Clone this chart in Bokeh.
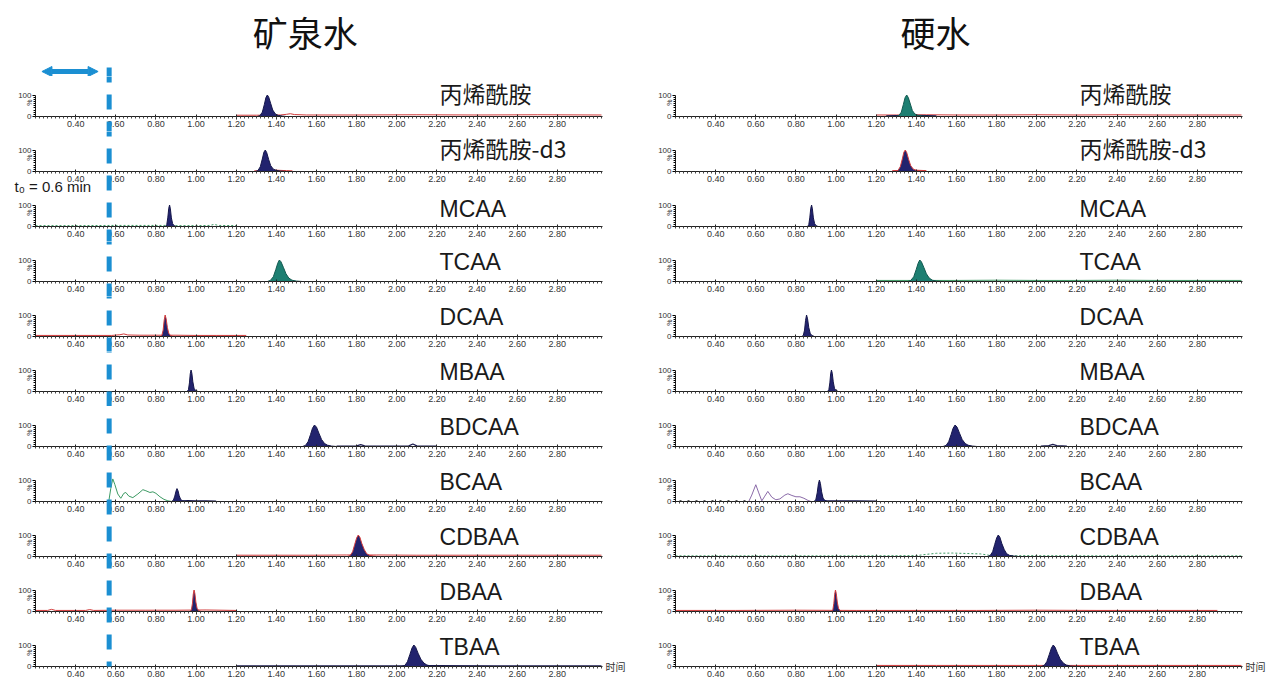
import math
from bokeh.plotting import figure
from bokeh.models import (Range1d, FixedTicker, PrintfTickFormatter, Label, Arrow,
                          NormalHead, ColumnDataSource)
from bokeh.layouts import row, column
from bokeh.embed import file_html
from bokeh.resources import INLINE

# ---------------- data ----------------
SAMPLES = ["矿泉水", "硬水"]
COMPOUNDS = ["丙烯酰胺", "丙烯酰胺-d3", "MCAA", "TCAA", "DCAA", "MBAA",
             "BDCAA", "BCAA", "CDBAA", "DBAA", "TBAA"]
X_TICKS = [0.4, 0.6, 0.8, 1.0, 1.2, 1.4, 1.6, 1.8, 2.0, 2.2, 2.4, 2.6, 2.8]
X_MINOR_TICKS = [round(0.2 + 0.02 * k, 2) for k in range(142)]
Y_TICKS = [0, 100]
Y_MINOR_TICKS = [10, 20, 30, 40, 50, 60, 70, 80, 90]
TIME_RANGE = (0.2, 3.025)
DEAD_TIME_MARK = 0.567
DEAD_TIME_SPAN = (0.232, 0.512)
DEAD_TIME_TEXT = "t₀ = 0.6 min"
AXIS_NAME = "时间"
Y_NAME = "%"

# peaks, mineral water (矿泉水)
MINERAL_PEAK_T = [
    [1.305, 1.318, 1.33, 1.34, 1.348, 1.355, 1.362, 1.372, 1.382, 1.395, 1.41, 1.43, 1.45],
    [1.295, 1.308, 1.32, 1.33, 1.338, 1.345, 1.352, 1.362, 1.372, 1.385, 1.40, 1.42, 1.45],
    [0.848, 0.854, 0.859, 0.864, 0.868, 0.872, 0.877, 0.883, 0.89, 0.90],
    [1.355, 1.37, 1.385, 1.397, 1.407, 1.415, 1.423, 1.435, 1.448, 1.462, 1.478, 1.50, 1.53],
    [0.822, 0.83, 0.836, 0.841, 0.846, 0.851, 0.857, 0.864, 0.872, 0.885],
    [0.955, 0.962, 0.967, 0.971, 0.975, 0.979, 0.984, 0.99, 0.998, 1.01],
    [1.53, 1.545, 1.558, 1.57, 1.58, 1.59, 1.60, 1.612, 1.625, 1.64, 1.655, 1.675, 1.70],
    [0.878, 0.887, 0.894, 0.90, 0.905, 0.91, 0.916, 0.923, 0.932, 0.945],
    [1.755, 1.768, 1.78, 1.79, 1.80, 1.808, 1.816, 1.826, 1.838, 1.85, 1.865, 1.885, 1.91],
    [0.97, 0.977, 0.982, 0.986, 0.99, 0.994, 0.999, 1.005, 1.013, 1.025],
    [2.025, 2.04, 2.053, 2.065, 2.076, 2.085, 2.094, 2.106, 2.12, 2.135, 2.15, 2.17, 2.20],
]
MINERAL_PEAK_I = [
    [0, 4, 20, 55, 88, 100, 90, 60, 30, 12, 5, 2, 0],
    [0, 4, 22, 58, 90, 100, 88, 55, 27, 11, 5, 2, 0],
    [0, 8, 40, 85, 100, 82, 40, 14, 4, 0],
    [0, 5, 22, 55, 85, 100, 92, 66, 36, 16, 6, 2, 0],
    [0, 6, 30, 75, 100, 82, 42, 15, 5, 0],
    [0, 8, 40, 82, 100, 85, 45, 15, 4, 0],
    [0, 5, 22, 55, 85, 100, 90, 62, 33, 14, 6, 2, 0],
    [0, 6, 25, 48, 60, 50, 27, 10, 3, 0],
    [0, 5, 22, 55, 86, 100, 90, 60, 32, 13, 5, 2, 0],
    [0, 8, 38, 80, 100, 84, 44, 15, 4, 0],
    [0, 5, 22, 55, 86, 100, 90, 62, 34, 16, 7, 2, 0],
]
# peaks, hard water (硬水)
HARD_PEAK_T = [
    [1.30, 1.313, 1.325, 1.335, 1.344, 1.352, 1.36, 1.37, 1.38, 1.392, 1.408, 1.43, 1.46],
    [1.295, 1.308, 1.32, 1.33, 1.338, 1.345, 1.352, 1.362, 1.372, 1.385, 1.40, 1.42, 1.45],
    [0.858, 0.864, 0.869, 0.874, 0.878, 0.882, 0.887, 0.893, 0.90, 0.91],
    [1.357, 1.372, 1.387, 1.399, 1.409, 1.417, 1.425, 1.437, 1.45, 1.464, 1.48, 1.50, 1.53],
    [0.83, 0.837, 0.843, 0.848, 0.853, 0.858, 0.864, 0.871, 0.879, 0.892],
    [0.957, 0.964, 0.969, 0.973, 0.977, 0.981, 0.986, 0.992, 1.00, 1.012],
    [1.533, 1.548, 1.561, 1.573, 1.583, 1.593, 1.603, 1.615, 1.628, 1.643, 1.658, 1.678, 1.703],
    [0.89, 0.899, 0.906, 0.912, 0.917, 0.922, 0.928, 0.935, 0.944, 0.957],
    [1.755, 1.768, 1.78, 1.79, 1.80, 1.808, 1.816, 1.826, 1.838, 1.85, 1.865, 1.885, 1.91],
    [0.977, 0.984, 0.989, 0.993, 0.997, 1.001, 1.006, 1.012, 1.02, 1.032],
    [2.022, 2.037, 2.05, 2.062, 2.073, 2.082, 2.091, 2.103, 2.117, 2.132, 2.147, 2.167, 2.197],
]
HARD_PEAK_I = [
    [0, 4, 20, 55, 88, 100, 88, 58, 28, 12, 5, 2, 0],
    [0, 4, 22, 58, 90, 100, 88, 55, 27, 11, 5, 2, 0],
    [0, 8, 40, 85, 100, 82, 40, 14, 4, 0],
    [0, 5, 22, 55, 85, 100, 92, 66, 36, 16, 6, 2, 0],
    [0, 6, 30, 75, 100, 82, 42, 15, 5, 0],
    [0, 8, 40, 82, 100, 85, 45, 15, 4, 0],
    [0, 5, 22, 55, 85, 100, 90, 62, 33, 14, 6, 2, 0],
    [0, 8, 40, 82, 100, 84, 45, 16, 5, 0],
    [0, 5, 22, 55, 86, 100, 90, 60, 32, 13, 5, 2, 0],
    [0, 8, 38, 80, 100, 84, 44, 15, 4, 0],
    [0, 5, 22, 55, 86, 100, 90, 62, 34, 16, 7, 2, 0],
]

# baseline / background traces
MINERAL_TRACE_PANEL = [0, 1, 2, 4, 6, 7, 7, 8, 9, 10]
MINERAL_TRACE_KIND = ["red", "red", "green_dot", "red", "dark", "green", "dark", "red", "red", "dark"]
MINERAL_TRACE_T = [
    [1.20, 1.30, 1.42, 1.45, 1.47, 1.49, 1.55, 1.80, 2.10, 2.40, 2.70, 3.02],
    [1.29, 1.32, 1.40, 1.45, 1.48],
    [0.20, 0.40, 0.60, 0.80, 0.85, 0.90, 1.00, 1.07, 1.09, 1.11, 1.20],
    [0.20, 0.40, 0.58, 0.62, 0.64, 0.66, 0.72, 0.80, 0.90, 1.00, 1.10, 1.25],
    [1.70, 1.80, 1.82, 1.84, 1.95, 2.06, 2.08, 2.10, 2.20],
    [0.565, 0.575, 0.585, 0.595, 0.61, 0.625, 0.64, 0.65, 0.665, 0.685, 0.71, 0.735,
     0.75, 0.77, 0.785, 0.80, 0.82, 0.84, 0.86, 0.88],
    [0.93, 0.96, 1.00, 1.05, 1.10],
    [1.20, 1.40, 1.60, 1.75, 1.90, 2.10, 2.40, 2.70, 3.02],
    [0.20, 0.26, 0.28, 0.30, 0.45, 0.47, 0.49, 0.60, 0.75, 0.90, 1.05, 1.20],
    [1.20, 1.50, 1.80, 2.00, 2.20, 2.50, 2.80, 3.02],
]
MINERAL_TRACE_I = [
    [6, 6, 7, 10, 13, 9, 7, 7, 8, 7, 8, 7],
    [3, 4, 6, 4, 3],
    [4, 4, 5, 5, 5, 4, 4, 5, 10, 5, 4],
    [5, 5, 5, 8, 12, 7, 6, 6, 6, 5, 5, 5],
    [2, 3, 9, 3, 2, 3, 12, 3, 2],
    [0, 60, 105, 80, 35, 15, 38, 42, 25, 18, 35, 55, 50, 42, 45, 38, 22, 10, 3, 0],
    [3, 4, 3, 3, 2],
    [6, 6, 6, 7, 7, 6, 6, 6, 6],
    [5, 5, 10, 5, 5, 9, 5, 6, 6, 6, 7, 5],
    [3, 3, 3, 3, 4, 3, 3, 3],
]
HARD_TRACE_PANEL = [0, 0, 1, 3, 6, 7, 7, 7, 8, 9, 10]
HARD_TRACE_KIND = ["red", "dark", "red", "green", "dark", "purple", "dots", "dark", "green_dot", "red", "red"]
HARD_TRACE_T = [
    [1.20, 1.30, 1.45, 1.60, 1.80, 2.00, 2.20, 2.40, 2.60, 2.80, 3.02],
    [1.25, 1.30, 1.40, 1.45, 1.50],
    [1.28, 1.32, 1.40, 1.45],
    [1.20, 1.40, 1.60, 1.80, 2.00, 2.20, 2.40, 2.60, 2.80, 3.02],
    [2.02, 2.06, 2.08, 2.10, 2.15],
    [0.565, 0.58, 0.60, 0.615, 0.63, 0.645, 0.66, 0.68, 0.70, 0.72, 0.745, 0.76,
     0.78, 0.80, 0.82, 0.84, 0.86, 0.875],
    [0.22, 0.35, 0.45, 0.55],
    [0.94, 1.00, 1.10, 1.20],
    [0.20, 1.00, 1.40, 1.45, 1.50, 1.58, 1.65, 1.72, 1.76, 1.90, 2.40, 3.02],
    [0.20, 0.50, 0.80, 1.10, 1.40, 1.70, 2.00, 2.30, 2.60, 2.90],
    [1.20, 1.50, 1.80, 2.00, 2.20, 2.50, 2.80, 3.02],
]
HARD_TRACE_I = [
    [7, 7, 8, 7, 7, 8, 7, 8, 7, 7, 7],
    [3, 4, 5, 4, 3],
    [4, 5, 6, 4],
    [5, 5, 5, 6, 5, 5, 6, 5, 5, 5],
    [2, 4, 10, 4, 2],
    [0, 30, 78, 40, 3, 25, 47, 20, 8, 12, 30, 36, 28, 22, 22, 15, 5, 0],
    [3, 3, 3, 3],
    [3, 3, 3, 2],
    [3, 3, 4, 10, 15, 16, 14, 12, 6, 4, 3, 3],
    [5, 5, 6, 5, 5, 5, 6, 5, 5, 5],
    [5, 5, 5, 5, 5, 5, 5, 5],
]

# ---------------- styles / layout ----------------
NAVY = "#22236e"
NAVY_EDGE = "#15164a"
TEAL = "#1d7f72"
TEAL_EDGE = "#125a50"
RED = "#d33b3b"
GREEN = "#3c9a63"
PURPLE = "#8a6aa8"
DARK = "#1c1c50"
BLUE = "#1b8fd2"
TEXT = "#1a1a1a"

MINERAL_FILL = [NAVY, NAVY, NAVY, TEAL, NAVY, NAVY, NAVY, NAVY, NAVY, NAVY, NAVY]
MINERAL_EDGE = [NAVY_EDGE, NAVY_EDGE, NAVY_EDGE, TEAL_EDGE, RED, NAVY_EDGE, NAVY_EDGE,
                NAVY_EDGE, RED, RED, NAVY_EDGE]
HARD_FILL = [TEAL, NAVY, NAVY, TEAL, NAVY, NAVY, NAVY, NAVY, NAVY, NAVY, NAVY]
HARD_EDGE = [TEAL_EDGE, RED, NAVY_EDGE, TEAL_EDGE, NAVY_EDGE, NAVY_EDGE, NAVY_EDGE,
             NAVY_EDGE, NAVY_EDGE, RED, NAVY_EDGE]
TRACE_STYLE = {
    "red": dict(line_color=RED, line_width=1),
    "dark": dict(line_color=DARK, line_width=1.2),
    "green": dict(line_color=GREEN, line_width=1),
    "green_dot": dict(line_color=GREEN, line_width=1, line_dash="2 2"),
    "purple": dict(line_color=PURPLE, line_width=1),
    "dots": dict(line_color="#222222", line_width=1.2, line_dash="2 6"),
}

FIG_W = 640
PAD_L, PAD_R = 35, 38                       # px left / right of the time axis
PX_PER_MIN = (FIG_W - PAD_L - PAD_R) / (TIME_RANGE[1] - TIME_RANGE[0])
X_VIEW = (TIME_RANGE[0] - PAD_L / PX_PER_MIN, TIME_RANGE[1] + PAD_R / PX_PER_MIN)
TITLE_H = 76
HEIGHTS = [55, 64, 46, 55, 55, 55, 55, 55, 55, 55, 57]
ABOVE = [40, 40, 31, 40, 40, 40, 40, 40, 40, 40, 40]
K = 100 / 21.5          # intensity units per pixel
DASH_START = 67         # page y where the dashed line begins
DASH_PERIOD = 27
NAME_X = 2.213
NAME_FONT_PX = 23


def cjk(s):
    return any(ord(c) > 0x2E80 for c in s)


def base_fig(h, y0, y1):
    p = figure(width=FIG_W, height=h, x_range=Range1d(*X_VIEW), y_range=Range1d(y0, y1),
               output_backend="svg", toolbar_location=None, title=None,
               min_border_left=0, min_border_right=0, min_border_top=0, min_border_bottom=0)
    p.grid.visible = False
    p.outline_line_color = None
    p.background_fill_color = "white"
    p.border_fill_color = "white"
    return p


def make_column(ci, sample, peak_t, peak_i, tr_panel, tr_t, tr_i, tr_kind,
                fills, edges, title_x):
    figs = []
    t = base_fig(TITLE_H, 0, TITLE_H)
    t.axis.visible = False
    t.add_layout(Label(x=title_x, y=TITLE_H - 31, text=sample, text_font="Noto Sans CJK SC",
                       text_font_size="35px", text_align="center", text_baseline="middle",
                       text_color="#111111"))
    if ci == 0:
        t.segment(x0=[DEAD_TIME_MARK], y0=[TITLE_H - DASH_START], x1=[DEAD_TIME_MARK], y1=[0],
                  line_color=BLUE, line_width=5, line_dash="15 12", level="overlay")
        head = dict(size=10, fill_color=BLUE, line_color=BLUE)
        t.add_layout(Arrow(start=NormalHead(**head), end=NormalHead(**head),
                           x_start=DEAD_TIME_SPAN[0], y_start=5,
                           x_end=DEAD_TIME_SPAN[1], y_end=5,
                           line_color=BLUE, line_width=5))
    figs.append(t)

    top_page = TITLE_H
    for i, name in enumerate(COMPOUNDS):
        h = HEIGHTS[i]
        a = ABOVE[i]
        b = h - a
        p = base_fig(h, -b * K, a * K)

        xa = p.xaxis[0]
        xa.fixed_location = 0
        xa.bounds = TIME_RANGE
        xa.ticker = FixedTicker(ticks=X_TICKS, minor_ticks=X_MINOR_TICKS)
        xa.formatter = PrintfTickFormatter(format="%.2f")
        xa.major_label_text_font = "Liberation Sans"
        xa.major_label_text_font_size = "9px"
        xa.major_label_text_color = "#333333"
        xa.major_label_standoff = 1
        xa.major_tick_in = 2
        xa.major_tick_out = 3
        xa.minor_tick_in = 0
        xa.minor_tick_out = 2
        xa.axis_line_color = "#222222"
        xa.major_tick_line_color = "#222222"
        xa.minor_tick_line_color = "#444444"

        ya = p.yaxis[0]
        ya.fixed_location = TIME_RANGE[0]
        ya.bounds = (0, 100)
        ya.ticker = FixedTicker(ticks=Y_TICKS, minor_ticks=Y_MINOR_TICKS)
        ya.major_label_text_font = "Liberation Sans"
        ya.major_label_text_font_size = "8px"
        ya.major_label_text_color = "#333333"
        ya.major_label_standoff = 1
        ya.major_tick_in = 0
        ya.major_tick_out = 3
        ya.minor_tick_in = 0
        ya.minor_tick_out = 2
        ya.axis_line_color = "#222222"

        # background traces
        for k, pi in enumerate(tr_panel):
            if pi == i:
                p.line(tr_t[k], tr_i[k], **TRACE_STYLE[tr_kind[k]])
        # peak
        src = ColumnDataSource(dict(t=peak_t[i], v=peak_i[i]))
        p.varea(x="t", y1=0, y2="v", source=src, fill_color=fills[i])
        p.line(x="t", y="v", source=src, line_color=edges[i], line_width=1)

        is_cjk = cjk(name)
        half_box = (0.724 if is_cjk else 0.575) * NAME_FONT_PX
        name_px = min(23.3 if is_cjk else 20.0, a - half_box - 0.3)
        p.add_layout(Label(x=NAME_X, y=name_px * K, text=name,
                           text_font="Noto Sans CJK SC" if is_cjk else "Liberation Sans",
                           text_font_size=f"{NAME_FONT_PX}px", text_baseline="middle",
                           text_color=TEXT))
        p.add_layout(Label(x=PAD_L - 6, x_units="screen", y=65, text=Y_NAME,
                           angle=math.pi / 2, text_font="Liberation Sans",
                           text_font_size="7px", text_align="center",
                           text_baseline="middle", text_color="#333333"))

        if ci == 0:
            end = 0 if i == len(COMPOUNDS) - 1 else -b * K
            offset = (top_page - DASH_START) % DASH_PERIOD
            p.segment(x0=[DEAD_TIME_MARK], y0=[a * K], x1=[DEAD_TIME_MARK], y1=[end],
                      line_color=BLUE, line_width=5, line_dash="15 12",
                      line_dash_offset=offset, level="overlay")
            if i == 1:
                p.add_layout(Label(x=14, x_units="screen", y=-15.3 * K, text=DEAD_TIME_TEXT,
                                   text_font="Liberation Sans", text_font_size="15px",
                                   text_baseline="middle", text_color=TEXT))
        if i == len(COMPOUNDS) - 1:
            p.add_layout(Label(x=FIG_W - PAD_R + 3, x_units="screen", y=0, text=AXIS_NAME,
                               text_font="Noto Sans CJK SC", text_font_size="10px",
                               text_baseline="middle", text_color="#333333"))
        figs.append(p)
        top_page += h
    return column(*figs, spacing=0)


left = make_column(0, SAMPLES[0], MINERAL_PEAK_T, MINERAL_PEAK_I, MINERAL_TRACE_PANEL,
                   MINERAL_TRACE_T, MINERAL_TRACE_I, MINERAL_TRACE_KIND,
                   MINERAL_FILL, MINERAL_EDGE, 1.544)
right = make_column(1, SAMPLES[1], HARD_PEAK_T, HARD_PEAK_I, HARD_TRACE_PANEL,
                    HARD_TRACE_T, HARD_TRACE_I, HARD_TRACE_KIND,
                    HARD_FILL, HARD_EDGE, 1.495)
layout = row(left, right, spacing=0)

open("out.html", "w").write(file_html(layout, INLINE))
